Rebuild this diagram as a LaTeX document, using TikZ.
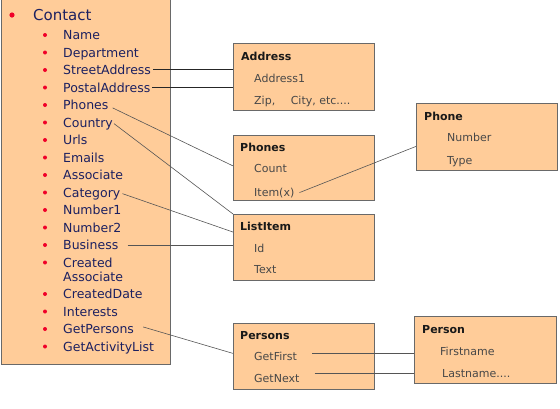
\documentclass[tikz,border=0pt]{standalone}
\usepackage{fontspec}
\setmainfont{DejaVu Sans}
\usepackage{xcolor}
\usepackage{tikz}
\usetikzlibrary{calc}
\definecolor{boxfill}{RGB}{255, 204, 153}
\definecolor{boxline}{RGB}{105, 105, 105}
\definecolor{itemblue}{RGB}{28, 32, 96}
\definecolor{bulletred}{RGB}{240, 0, 40}
\definecolor{fieldgrey}{RGB}{72, 72, 72}
\definecolor{linkgrey}{RGB}{85, 85, 85}

\begin{document}
\begin{tikzpicture}[x=1pt, y=-1pt,
        classbox/.style={draw=boxline, fill=boxfill, line width=0.8pt, anchor=north west, inner sep=0pt},
        member/.style={anchor=base west, inner sep=0pt, text=itemblue, font=\fontsize{12.5}{14}\selectfont},
        boxtitle/.style={anchor=base west, inner sep=0pt, text=black!90, font=\fontsize{11}{13}\selectfont\bfseries},
        field/.style={anchor=base west, inner sep=0pt, text=fieldgrey, font=\fontsize{11}{13}\selectfont},
        link/.style={draw=linkgrey, line width=0.6pt},
        strong link/.style={draw=black!85, line width=1.1pt}]
        \useasboundingbox (0,0) rectangle (560,408);

        % Contact (left list)
        \node[classbox, minimum width=169pt, minimum height=365pt] (contact) at (1,-1) {};
        \fill[bulletred] (12,15) circle (2.6pt);
        \node[member, font=\fontsize{15}{18}\selectfont] (contacttitle) at (33,20.5) {Contact};
        \foreach \yb/\nm/\txt in {39.5/name/Name, 57/dept/Department, 74.5/street/StreetAddress,
                92/postal/PostalAddress, 109.5/phones/Phones, 127/country/Country, 144.5/urls/Urls,
                162/emails/Emails, 179.5/assoc/Associate, 197/category/Category, 214.5/num1/Number1,
                232/num2/Number2, 249.5/business/Business, 267/created/Created,
                298.5/cdate/CreatedDate, 316/interests/Interests, 333.5/getpersons/GetPersons,
                351/activity/GetActivityList}
        {
            \fill[bulletred] (45,\yb-4.5) circle (2pt);
            \node[member] (\nm) at (63,\yb) {\txt};
        }
        \node[member] (createdassoc) at (63,281) {Associate};

        % Address
        \node[classbox, minimum width=141pt, minimum height=67pt] (addressbox) at (233,43) {};
        \node[boxtitle] (addresstitle) at (241,60) {Address};
        \node[field] (address1) at (254,82) {Address1};
        \node[field] (zip) at (254,104) {Zip,\hspace{12pt} City, etc....};

        % Phones
        \node[classbox, minimum width=141pt, minimum height=65pt] (phonesbox) at (233,135) {};
        \node[boxtitle] (phonestitle) at (240,151) {Phones};
        \node[field] (count) at (254,172) {Count};
        \node[field] (itemx) at (254,196) {Item(x)};

        % ListItem
        \node[classbox, minimum width=141pt, minimum height=66pt] (listitembox) at (233,214) {};
        \node[boxtitle] (listitemtitle) at (240,230) {ListItem};
        \node[field] (id) at (254,252) {Id};
        \node[field] (text) at (254,273) {Text};

        % Persons
        \node[classbox, minimum width=141pt, minimum height=66pt] (personsbox) at (233,323) {};
        \node[boxtitle] (personstitle) at (240,339) {Persons};
        \node[field] (getfirst) at (254,360) {GetFirst};
        \node[field] (getnext) at (254,382) {GetNext};

        % Phone
        \node[classbox, minimum width=141pt, minimum height=67pt] (phonebox) at (416,103) {};
        \node[boxtitle] (phonetitle) at (424,120) {Phone};
        \node[field] (number) at (447,141) {Number};
        \node[field] (type) at (447,164) {Type};

        % Person
        \node[classbox, minimum width=142pt, minimum height=67pt] (personbox) at (414,316) {};
        \node[boxtitle] (persontitle) at (422,333) {Person};
        \node[field] (firstname) at (440,355) {Firstname};
        \node[field] (lastname) at (442,377) {Lastname....};

        % connectors
        \draw[strong link] ([xshift=2pt]street.east) -- (street.east -| addressbox.west);
        \draw[strong link] ([xshift=2pt]postal.east) -- (postal.east -| addressbox.west);
        \draw[link] ([xshift=4pt,yshift=2pt]phones.south east) -- ([yshift=2pt]phonesbox.west);
        \draw[link] ([xshift=1pt]country.east) -- (listitembox.north west);
        \draw[link] ([xshift=2pt]category.east) -- ($(listitembox.north west)!0.27!(listitembox.south west)$);
        \draw[link] ([xshift=9pt]business.east) -- (business.east -| listitembox.west);
        \draw[link] ([xshift=9pt,yshift=2pt]getpersons.east) -- ([yshift=3pt]personsbox.west);
        \draw[link] ([xshift=5pt]itemx.east) -- ($(phonebox.north west)!0.64!(phonebox.south west)$);
        \draw[link] ([xshift=15pt,yshift=-2pt]getfirst.north east) -- ([yshift=-2pt]getfirst.north east -| personbox.west);
        \draw[link] ([xshift=15pt]getnext.north east) -- (getnext.north east -| personbox.west);
    \end{tikzpicture}
\end{document}
